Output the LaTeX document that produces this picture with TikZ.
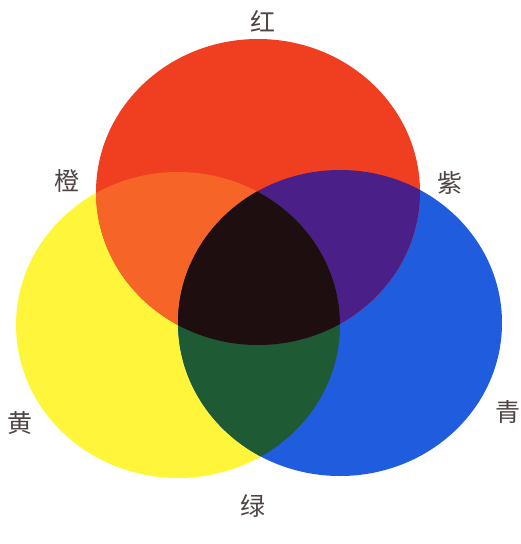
\documentclass[tikz,border=0pt]{standalone}
\usepackage{fontspec}
\newfontfamily\cjk{Noto Sans CJK SC}
\usepackage{tikz}
\definecolor{hong}{RGB}{240,62,32}
\definecolor{huang}{RGB}{255,246,60}
\definecolor{qing}{RGB}{32,92,222}
\definecolor{cheng}{RGB}{246,100,40}
\definecolor{zi}{RGB}{74,32,136}
\definecolor{lv}{RGB}{30,90,52}
\definecolor{hei}{RGB}{30,14,16}
\definecolor{ink}{RGB}{78,68,68}
\tikzset{
  disc/.style={x radius=162, y radius=153},
  lab/.style={font=\cjk\fontsize{25}{25}\selectfont, text=ink, inner sep=0pt},
}

\begin{document}
\begin{tikzpicture}[x=1pt, y=-1pt]
  \useasboundingbox (0,0) rectangle (521,544);
  \coordinate (R) at (258,192);
  \coordinate (Y) at (178,325);
  \coordinate (B) at (340,323);
  % primary discs
  \fill[huang] (Y) ellipse [disc];
  \fill[qing] (B) ellipse [disc];
  \fill[hong] (R) ellipse [disc];
  % pairwise overlaps
  \begin{scope}
    \clip (R) ellipse [disc];
    \fill[cheng] (Y) ellipse [disc];
    \fill[zi] (B) ellipse [disc];
  \end{scope}
  \begin{scope}
    \clip (Y) ellipse [disc];
    \fill[lv] (B) ellipse [disc];
  \end{scope}
  % centre
  \begin{scope}
    \clip (R) ellipse [disc];
    \clip (Y) ellipse [disc];
    \fill[hei] (B) ellipse [disc];
  \end{scope}
  % labels
  \foreach \n/\p/\t in {red/{263,21}/红, orange/{67,181}/橙, purple/{450,183}/紫,
                        yellow/{20,423}/黄, cyan/{508,412}/青, green/{253,506}/绿}
    \node[lab] (\n) at (\p) {\t};
\end{tikzpicture}
\end{document}
